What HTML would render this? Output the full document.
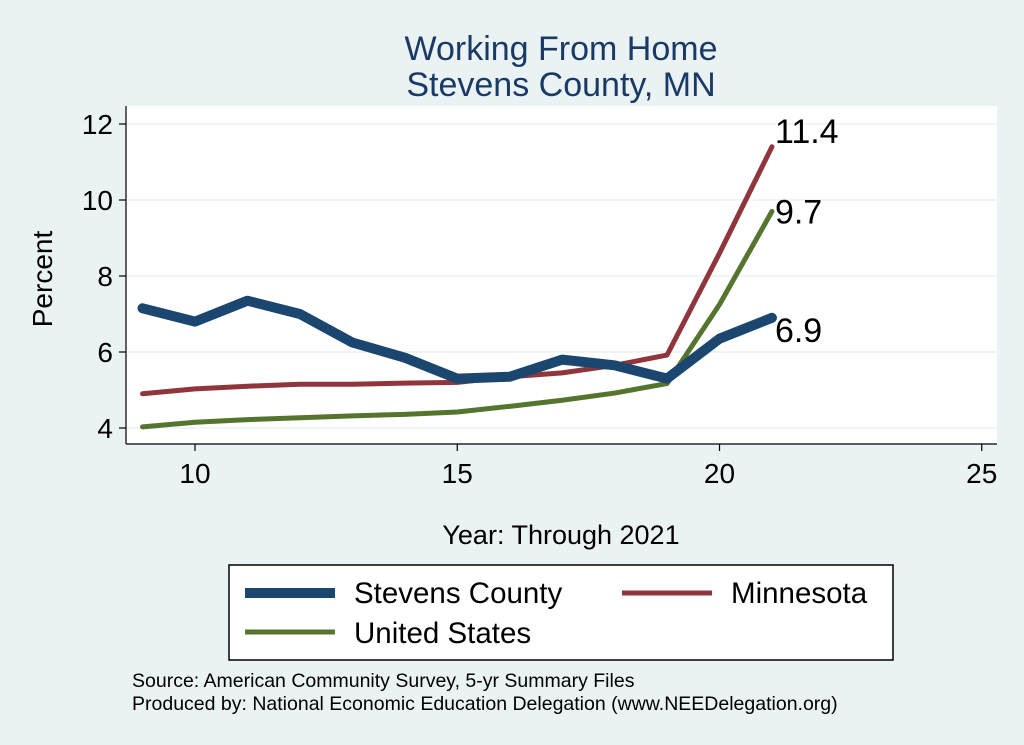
<!DOCTYPE html>
<html><head><meta charset="utf-8"><style>
body{margin:0;background:#eaf2f3;}
svg{display:block;font-family:"Liberation Sans",Arial,sans-serif;}
</style></head><body>
<svg id="c" width="1024" height="745">
<rect x="0" y="0" width="1024" height="745" fill="#eaf2f3"/>
<text x="561" y="60" font-size="34" fill="#1a3a66" text-anchor="middle">Working From Home</text>
<text x="561" y="96" font-size="34" fill="#1a3a66" text-anchor="middle">Stevens County, MN</text>
<rect x="126" y="106" width="871" height="338" fill="#fff"/>
<g id="grid"></g>
<g id="axes"></g>
<g id="series"></g>
<text x="52" y="279" font-size="28" fill="#000" text-anchor="middle" transform="rotate(-90 52 279)">Percent</text>
<text x="561" y="544" font-size="27" fill="#000" text-anchor="middle">Year: Through 2021</text>
<g>
<rect x="229" y="565" width="664" height="95" fill="#fff" stroke="#000" stroke-width="1.5"/>
<line x1="245" y1="593" x2="335" y2="593" stroke="#1a4670" stroke-width="10"/>
<text x="354" y="603" font-size="29.5">Stevens County</text>
<line x1="622" y1="593" x2="712" y2="593" stroke="#90353b" stroke-width="5"/>
<text x="731" y="603" font-size="29.5">Minnesota</text>
<line x1="245" y1="632" x2="335" y2="632" stroke="#55752f" stroke-width="5"/>
<text x="354" y="643" font-size="29.5">United States</text>
</g>
<text x="132" y="687" font-size="19.5">Source: American Community Survey, 5-yr Summary Files</text>
<text x="132" y="710" font-size="19.5">Produced by: National Economic Education Delegation (www.NEEDelegation.org)</text>
</svg>
<script>
const years=[9,10,11,12,13,14,15,16,17,18,19,20,21];
const stevens=[7.15,6.8,7.35,7.0,6.25,5.85,5.3,5.35,5.8,5.65,5.3,6.35,6.9];
const minnesota=[4.9,5.03,5.1,5.15,5.15,5.18,5.2,5.35,5.45,5.65,5.92,8.6,11.4];
const us=[4.03,4.15,4.22,4.27,4.32,4.36,4.42,4.57,4.73,4.92,5.17,7.25,9.7];
const xTicks=[10,15,20,25];
const yTicks=[4,6,8,10,12];
const endLabels=["6.9","11.4","9.7"];
const NS="http://www.w3.org/2000/svg";
const X=v=>195+(v-10)*52.45;
const Y=v=>428-(v-4)*38;
function mk(t,a,p){const e=document.createElementNS(NS,t);for(const k in a)e.setAttribute(k,a[k]);p.appendChild(e);return e;}
const grid=document.getElementById('grid'),axes=document.getElementById('axes'),ser=document.getElementById('series');
yTicks.forEach(v=>{
 const g=mk('line',{x1:126,x2:997,y1:Y(v),y2:Y(v),stroke:'#eaf2f3','stroke-width':1.5},grid);
 
 
 const t=mk('line',{x1:119,x2:126,y1:Y(v),y2:Y(v),stroke:'#000','stroke-width':1.2},axes);
 
 
 const l=mk('text',{x:113,y:Y(v)+10,'font-size':28,'text-anchor':'end'},axes);l.textContent=v;
 
 
});
xTicks.forEach(v=>{
 const t=mk('line',{x1:X(v),x2:X(v),y1:444,y2:451,stroke:'#000','stroke-width':1.2},axes);
 
 
 const l=mk('text',{x:X(v),y:483,'font-size':28,'text-anchor':'middle'},axes);l.textContent=v;
 
 
});
const ya=mk('line',{x1:126,x2:126,y1:106,y2:444,stroke:'#000','stroke-width':1.2},axes);


const xa=mk('line',{x1:126,x2:997,y1:444,y2:444,stroke:'#000','stroke-width':1.2},axes);


const defs=[[minnesota,'#90353b',5,'line-minnesota'],[us,'#55752f',5,'line-us'],[stevens,'#1a4670',10,'line-stevens']];
defs.forEach(([d,c,w,n])=>{
 const p=mk('polyline',{points:years.map((y,i)=>X(y)+','+Y(d[i])).join(' '),fill:'none',stroke:c,'stroke-width':w,'stroke-linejoin':'round','stroke-linecap':'round'},ser);
 
 
});
const last=years.length-1;
[[stevens,endLabels[0],24],[minnesota,endLabels[1],-4],[us,endLabels[2],12]].forEach(([d,txt,dy],i)=>{
 const t=mk('text',{x:X(years[last])+3,y:Y(d[last])+dy,'font-size':34},ser);t.textContent=txt;
 
 
});
</script>
</body></html>
